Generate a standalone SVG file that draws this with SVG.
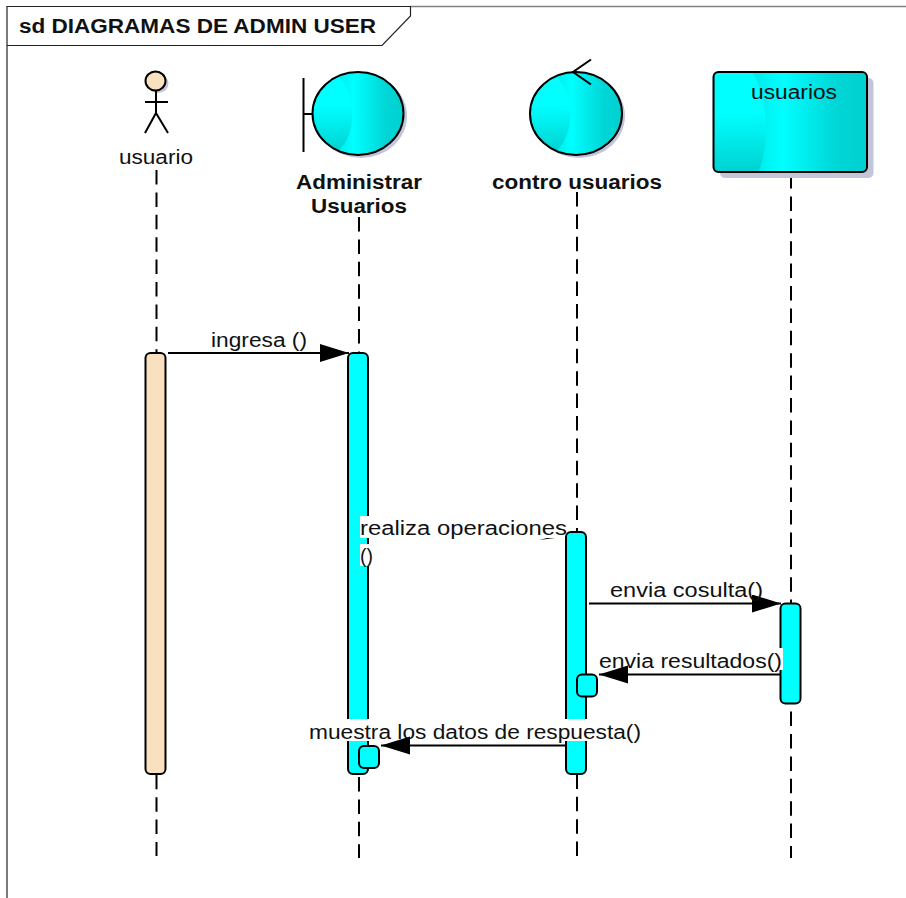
<svg xmlns="http://www.w3.org/2000/svg" width="906" height="898" viewBox="0 0 906 898">
<style>
.t{font-family:"Liberation Sans",Arial,sans-serif;font-size:19.500px;fill:#111}
.b{font-family:"Liberation Sans",Arial,sans-serif;font-size:20px;font-weight:bold;fill:#111}
.o{stroke:#000;stroke-width:2;fill:none}
.life{stroke:#000;stroke-width:2;stroke-dasharray:14.500 7.900;fill:none}
.act{fill:#0ff;stroke:#000;stroke-width:2}
.sh{fill:#c2c6d8}
.msg{stroke:#000;stroke-width:2;fill:none}
.bg{fill:#fff}
</style>
<defs>
<linearGradient id="h" x1="0" y1="0" x2="1" y2="0"><stop offset="0" stop-color="#00cccc"/><stop offset=".45" stop-color="#0ff"/><stop offset=".8" stop-color="#00d6d6"/><stop offset="1" stop-color="#00d0d0"/></linearGradient>
<linearGradient id="v" x1="0" y1="0" x2="0" y2="1"><stop offset="0" stop-color="#0ff"/><stop offset=".4" stop-color="#0ff"/><stop offset="1" stop-color="#00d2d2"/></linearGradient>
<marker id="a" markerUnits="userSpaceOnUse" markerWidth="30" markerHeight="20" refX="29" refY="9" orient="auto"><path d="M0 0L29 9L0 18Z" fill="#000"/></marker>
</defs>
<g id="frame">
<path d="M410 6.500H906" stroke="#808080" stroke-width="1.500" fill="none"/>
<path d="M7 898V6.500H410.500V16L382 45.500H7" stroke="#222" stroke-width="1.200" fill="#fff"/>
<text class="b" x="19" y="33" textLength="357" lengthAdjust="spacingAndGlyphs">sd DIAGRAMAS DE ADMIN USER</text>
</g>
<g id="connectors">
<path class="life" d="M156.500 170V856"/>
<path class="life" d="M359 217V858"/>
<path class="life" d="M577 192V858"/>
<path class="life" d="M791 174V858"/>
</g>
<g id="usuario-actor">
<ellipse cx="158" cy="83.500" rx="10.500" ry="9.500" class="sh"/>
<ellipse cx="155.500" cy="81" rx="10" ry="9.500" fill="#f9e0bf" stroke="#000" stroke-width="2"/>
<path class="o" d="M156 91V113M145 102H168M156 113L145 133M156 113L168 133"/>
<text class="t" x="119" y="164" textLength="74" lengthAdjust="spacingAndGlyphs">usuario</text>
</g>
<g id="administrar-usuarios">
<ellipse cx="361" cy="116" rx="46" ry="42" class="sh"/>
<ellipse cx="358" cy="113.500" rx="45.500" ry="41.500" fill="url(#h)"/>
<path d="M338 76A45.500 41.500 0 0 0 338 151C357 135 357 95 338 76Z" fill="url(#v)"/>
<ellipse cx="358" cy="113.500" rx="45.500" ry="41.500" fill="none" stroke="#000" stroke-width="2"/>
<path class="o" d="M303.500 78V152M303.500 114H313"/>
<text class="b" x="296" y="189" textLength="126" lengthAdjust="spacingAndGlyphs">Administrar</text>
<text class="b" x="311" y="213" textLength="96" lengthAdjust="spacingAndGlyphs">Usuarios</text>
</g>
<g id="contro-usuarios">
<ellipse cx="579" cy="116" rx="46" ry="42" class="sh"/>
<ellipse cx="576" cy="113.500" rx="46" ry="41.500" fill="url(#h)"/>
<path d="M556 76A46 41.500 0 0 0 556 151C575 135 575 95 556 76Z" fill="url(#v)"/>
<ellipse cx="576" cy="113.500" rx="46" ry="41.500" fill="none" stroke="#000" stroke-width="2"/>
<path class="o" d="M591 59.500L573 72L591 84.500"/>
<text class="b" x="492" y="189" textLength="170" lengthAdjust="spacingAndGlyphs">contro usuarios</text>
</g>
<g id="usuarios-entity">
<rect x="720" y="78" width="153.500" height="100" rx="5" class="sh"/>
<rect x="713.500" y="72" width="153.500" height="100" rx="5" fill="url(#h)"/>
<path d="M714.500 73H753C768 100 770 140 759 171H714.500Z" fill="url(#v)"/>
<rect x="713.500" y="72" width="153.500" height="100" rx="5" fill="none" stroke="#000" stroke-width="2"/>
<text class="t" x="751" y="99" textLength="86" lengthAdjust="spacingAndGlyphs">usuarios</text>
</g>
<g id="activations">
<rect x="145.500" y="353" width="20" height="421" rx="5" fill="#f9e0bf" stroke="#000" stroke-width="2"/>
<rect x="348" y="353" width="20" height="421" rx="5" class="act"/>
<rect x="566" y="532" width="20" height="242" rx="5" class="act"/>
<rect x="780.500" y="603.500" width="20" height="100" rx="5" class="act"/>
<rect x="577" y="674.500" width="20" height="22" rx="5" class="act"/>
<rect x="359" y="746" width="20" height="22" rx="5" class="act"/>
</g>
<g id="messages">
<path class="msg" d="M168 353H349" marker-end="url(#a)"/>
<text class="t" x="211" y="347" textLength="96" lengthAdjust="spacingAndGlyphs">ingresa ()</text>
<path d="M539 540L555 536V538Z" fill="#000"/>
<rect class="bg" x="360" y="516" width="205" height="22"/>
<rect class="bg" x="360" y="544" width="13" height="22"/>
<text class="t" x="360" y="535" textLength="207" lengthAdjust="spacingAndGlyphs">realiza operaciones</text>
<text class="t" x="360" y="563">()</text>
<path class="msg" d="M589 603.500H781" marker-end="url(#a)"/>
<text class="t" x="610" y="597" textLength="153" lengthAdjust="spacingAndGlyphs">envia cosulta()</text>
<rect class="bg" x="598" y="648" width="185" height="22"/>
<path class="msg" d="M780 674.500H599" marker-end="url(#a)"/>
<text class="t" x="599" y="668" textLength="183" lengthAdjust="spacingAndGlyphs">envia resultados()</text>
<rect class="bg" x="310" y="719" width="331" height="22"/>
<path class="msg" d="M566 745.500H381" marker-end="url(#a)"/>
<text class="t" x="309" y="739" textLength="332" lengthAdjust="spacingAndGlyphs">muestra los datos de respuesta()</text>
</g>
</svg>
